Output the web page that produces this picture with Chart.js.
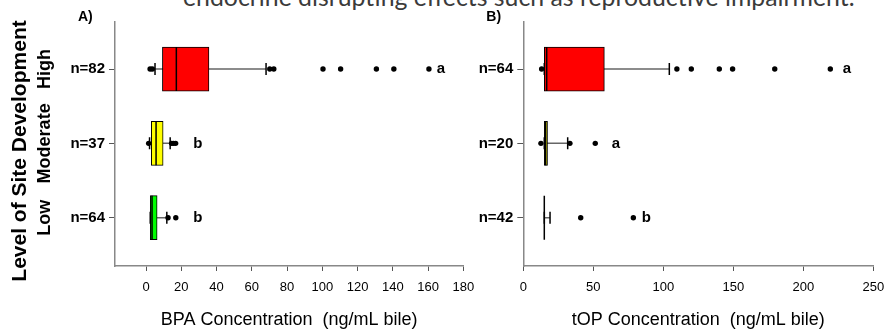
<!DOCTYPE html>
<html>
<head>
<meta charset="utf-8">
<script src="https://cdn.jsdelivr.net/npm/chart.js@4.4.1/dist/chart.umd.min.js"></script>
<style>
  html, body { margin: 0; padding: 0; background: #fff; }
  body { width: 887px; height: 331px; position: relative; overflow: hidden; }
  #lead { position: absolute; left: 183px; top: -14px; white-space: nowrap; font-family: Lato, 'Open Sans', sans-serif; font-size: 22px; line-height: 1; color: #3b3b3b; }
  .panel { position: absolute; top: 0; height: 331px; }
  #bpaBox { left: 0; width: 480px; }
  #topBox { left: 476px; width: 411px; }
</style>
</head>
<body>
<div id="lead">endocrine disrupting effects such as reproductive impairment.</div>
<div class="panel" id="bpaBox"><canvas id="bpaChart"></canvas></div>
<div class="panel" id="topBox"><canvas id="topChart"></canvas></div>
<script>
// site development levels, top to bottom
var levels = ['High', 'Moderate', 'Low'];
var levelPos = [2, 1, 0];
var boxColors = ['#ff0000', '#ffff00', '#00ff00'];

// A) BPA
var bpaN = ['n=82', 'n=37', 'n=64'];
var bpaLow = [5.1, 2.0, 2.4];
var bpaQ1 = [9.3, 3.0, 2.4];
var bpaMedian = [17.2, 5.7, 3.4];
var bpaQ3 = [35.7, 9.7, 6.3];
var bpaHigh = [68.1, 13.7, 11.8];
var bpaOutliers = [
    [2.3, 3.6, 70.2, 72.5, 100.4, 110.4, 130.7, 140.6, 160.5],
    [1.5, 14.5, 15.6, 16.8],
    [12.5, 16.9]
];
var bpaLetters = ['a', 'b', 'b'];
var bpaLetterAt = [164.9, 26.8, 26.8];
var bpaTicks = [0, 20, 40, 60, 80, 100, 120, 140, 160, 180];

// B) tOP
var topN = ['n=64', 'n=20', 'n=42'];
var topLow = [15, 15, 15];
var topQ1 = [15.0, 15.0, 15.0];
var topMedian = [16.7, 16.0, 15.0];
var topQ3 = [57.9, 17.3, 15.0];
var topHigh = [104.3, 31.7, 19.1];
var topOutliers = [
    [13.1, 109.7, 120, 140, 149.5, 179.6, 219.3],
    [12.6, 33.3, 51.4],
    [41, 78.6]
];
var topLetters = ['a', 'a', 'b'];
var topLetterAt = [228.1, 63.1, 84.6];
var topTicks = [0, 50, 100, 150, 200, 250];

var fam = "'Liberation Sans', Arial, sans-serif";
Chart.defaults.font.family = fam;

// fit the cut-off heading line to its width in the slide
var lead = document.getElementById('lead');
lead.style.fontSize = '100px';
var leadSize = 100 * 672 / lead.getBoundingClientRect().width;
lead.style.fontSize = leadSize + 'px';
lead.style.top = (6 - 0.887 * leadSize) + 'px';

function boxDatasets(low, q1, med, q3, high, outliers) {
    var sets = [];
    levelPos.forEach(function (p, i) {
        sets.push({
            type: 'scatter',
            data: [{x: low[i], y: p}, {x: high[i], y: p}],
            showLine: true,
            borderColor: '#666',
            borderWidth: 1.5,
            pointRadius: 0,
            order: 3
        });
    });
    sets.push({
        type: 'bar',
        indexAxis: 'y',
        data: levelPos.map(function (p, i) { return {x: [q1[i], q3[i]], y: p}; }),
        backgroundColor: boxColors,
        borderColor: '#000',
        borderWidth: 1,
        borderSkipped: false,
        barThickness: 44,
        order: 2
    });
    sets.push({
        type: 'scatter',
        data: levelPos.map(function (p, i) { return {x: med[i], y: p}; }),
        pointStyle: 'line',
        pointRotation: 90,
        pointRadius: 22,
        pointBorderColor: '#000',
        pointBorderWidth: 1.5,
        order: 1
    });
    var caps = [];
    levelPos.forEach(function (p, i) {
        caps.push({x: low[i], y: p});
        caps.push({x: high[i], y: p});
    });
    sets.push({
        type: 'scatter',
        data: caps,
        pointStyle: 'line',
        pointRotation: 90,
        pointRadius: 6,
        pointBorderColor: '#000',
        pointBorderWidth: 1.5,
        order: 1
    });
    var dots = [];
    levelPos.forEach(function (p, i) {
        outliers[i].forEach(function (v) { dots.push({x: v, y: p}); });
    });
    sets.push({
        type: 'scatter',
        data: dots,
        pointStyle: 'circle',
        pointRadius: 2.7,
        pointBackgroundColor: '#000',
        pointBorderWidth: 0,
        order: 0
    });
    return sets;
}

function notesPlugin(letters, letterAt, tag, withLevels) {
    return {
        id: 'notes',
        afterDatasetsDraw: function (chart) {
            var ctx = chart.ctx, x = chart.scales.x, y = chart.scales.y, area = chart.chartArea;
            ctx.save();
            ctx.fillStyle = '#000';
            ctx.textBaseline = 'middle';
            ctx.textAlign = 'left';
            ctx.font = 'bold 15px ' + fam;
            letters.forEach(function (t, i) {
                ctx.fillText(t, x.getPixelForValue(letterAt[i]), y.getPixelForValue(levelPos[i]));
            });
            ctx.font = 'bold 14px ' + fam;
            ctx.fillText(tag, area.left - 37, area.top - 5);
            if (withLevels) {
                ctx.textAlign = 'center';
                ctx.save();
                ctx.translate(20, 151);
                ctx.rotate(-Math.PI / 2);
                ctx.font = 'bold 21px ' + fam;
                ctx.fillText('Level of Site Development', 0, 0);
                ctx.restore();
                ctx.font = 'bold 18px ' + fam;
                levels.forEach(function (t, i) {
                    ctx.save();
                    ctx.translate(45, y.getPixelForValue(levelPos[i]));
                    ctx.rotate(-Math.PI / 2);
                    ctx.fillText(t, 0, 0);
                    ctx.restore();
                });
            }
            ctx.restore();
        }
    };
}

function drawPanel(id, sets, cfg) {
    new Chart(document.getElementById(id), {
        type: 'scatter',
        data: { datasets: sets },
        options: {
            responsive: true,
            maintainAspectRatio: false,
            animation: false,
            events: [],
            layout: { autoPadding: false, padding: { top: 22, right: cfg.padRight, bottom: 0, left: 0 } },
            plugins: { legend: { display: false }, tooltip: { enabled: false } },
            scales: {
                x: {
                    type: 'linear',
                    min: cfg.xMin,
                    max: cfg.xMax,
                    offset: false,
                    afterBuildTicks: function (s) { s.ticks = cfg.ticks.map(function (v) { return {value: v}; }); },
                    afterFit: function (s) { s.height = 65; s.paddingLeft = 0; s.paddingRight = 0; },
                    grid: { drawOnChartArea: false, offset: false, tickLength: 5, color: '#555' },
                    border: { color: '#888', width: 1.5 },
                    ticks: { color: '#000', font: { size: 13 }, padding: 9, maxRotation: 0, autoSkip: false },
                    title: { display: true, text: cfg.xTitle, color: '#000', font: { size: 18 }, padding: { top: 0, bottom: 0 } }
                },
                y: {
                    type: 'linear',
                    min: -0.65,
                    max: 2.633,
                    offset: false,
                    afterBuildTicks: function (s) { s.ticks = levelPos.map(function (v) { return {value: v}; }); },
                    afterFit: function (s) { s.width = cfg.yWidth; s.paddingTop = 0; s.paddingBottom = 0; },
                    grid: { drawOnChartArea: false, offset: false, tickLength: 6, color: '#555' },
                    border: { color: '#888', width: 1.5 },
                    ticks: {
                        color: '#000',
                        font: { size: 15, weight: 'bold' },
                        padding: 4,
                        autoSkip: false,
                        callback: function (v, i) { return cfg.nLabels[i]; }
                    }
                }
            }
        },
        plugins: [cfg.notes]
    });
}

drawPanel('bpaChart', boxDatasets(bpaLow, bpaQ1, bpaMedian, bpaQ3, bpaHigh, bpaOutliers), {
    xMin: -17.6, xMax: 180, ticks: bpaTicks, nLabels: bpaN,
    xTitle: 'BPA Concentration  (ng/mL bile)',
    yWidth: 115, padRight: 16.7,
    notes: notesPlugin(bpaLetters, bpaLetterAt, 'A)', true)
});

drawPanel('topChart', boxDatasets(topLow, topQ1, topMedian, topQ3, topHigh, topOutliers), {
    xMin: 0, xMax: 250, ticks: topTicks, nLabels: topN,
    xTitle: 'tOP Concentration  (ng/mL bile)',
    yWidth: 47.3, padRight: 13.7,
    notes: notesPlugin(topLetters, topLetterAt, 'B)', false)
});
</script>
</body>
</html>
